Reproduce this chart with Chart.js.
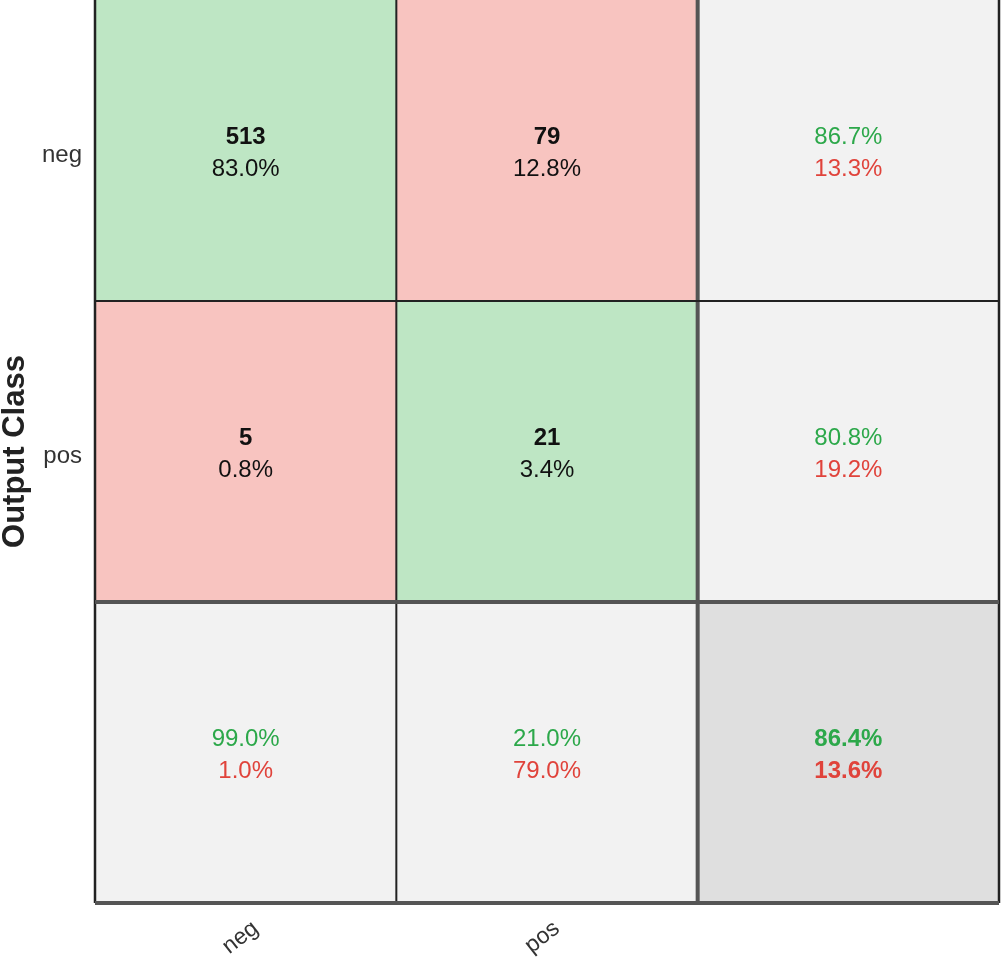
<!DOCTYPE html>
<html>
<head>
<meta charset="utf-8">
<title>Confusion matrix</title>
<script src="https://cdn.jsdelivr.net/npm/chart.js@4/dist/chart.umd.min.js"></script>
<style>
  html, body { margin: 0; padding: 0; background: #fff; }
  canvas { display: block; }
</style>
</head>
<body>
<canvas id="myChart" width="1001" height="960"></canvas>
<script>
// classes (rows = output class, columns = target class)
const classes = ['neg', 'pos']
const counts = [[513, 79], [5, 21]]
const cellPct = [[83.0, 12.8], [0.8, 3.4]]
// row summary (right column)
const rowGood = [86.7, 80.8]
const rowBad = [13.3, 19.2]
// column summary (bottom row)
const colGood = [99.0, 21.0]
const colBad = [1.0, 79.0]
// overall
const totalGood = 86.4
const totalBad = 13.6

const green = '#bee6c4'
const red = '#f8c4c0'
const light = '#f2f2f2'
const dark = '#dfdfdf'
const goodText = '#2ca84a'
const badText = '#e0433b'
const fontFamily = '"Liberation Sans", Arial, Helvetica, sans-serif'

const xLabels = [...classes, '']
const pct = v => v.toFixed(1) + '%'

// one dataset per row, stacked bottom-up: summary row, pos, neg
const rowColors = [
    [light, light, dark],
    [red, green, light],
    [green, red, light]
]
const datasets = rowColors.map((colors, i) => ({
    label: 'row' + i,
    data: xLabels.map(() => 1),
    backgroundColor: colors,
    borderWidth: 0,
    barPercentage: 1,
    categoryPercentage: 1
}))

const cellText = {
    id: 'cellText',
    afterDatasetsDraw(chart) {
        const {ctx, scales: {x, y}, chartArea} = chart
        ctx.save()
        ctx.textAlign = 'center'
        ctx.textBaseline = 'middle'
        const n = classes.length
        const put = (col, row, top, bottom, topFont, bottomFont, topColor, bottomColor) => {
            const cx = x.getPixelForValue(col)
            const cy = y.getPixelForValue(n + 0.5 - row)
            ctx.font = topFont
            ctx.fillStyle = topColor
            ctx.fillText(top, cx, cy - 13)
            ctx.font = bottomFont
            ctx.fillStyle = bottomColor
            ctx.fillText(bottom, cx, cy + 19)
        }
        const bold = 'bold 24px ' + fontFamily
        const reg = '24px ' + fontFamily
        for (let r = 0; r < n; r++) {
            for (let c = 0; c < n; c++) {
                put(c, r, String(counts[r][c]), pct(cellPct[r][c]), bold, reg, '#111', '#111')
            }
            put(n, r, pct(rowGood[r]), pct(rowBad[r]), reg, reg, goodText, badText)
        }
        for (let c = 0; c < n; c++) {
            put(c, n, pct(colGood[c]), pct(colBad[c]), reg, reg, goodText, badText)
        }
        put(n, n, pct(totalGood), pct(totalBad), bold, bold, goodText, badText)

        // grid lines between cells
        const line = (x1, y1, x2, y2, w, color) => {
            ctx.beginPath()
            ctx.lineWidth = w
            ctx.strokeStyle = color
            ctx.moveTo(x1, y1)
            ctx.lineTo(x2, y2)
            ctx.stroke()
        }
        const vStyles = [[2.5, '#222'], [2, '#222'], [4, '#555'], [2.5, '#222']]
        vStyles.forEach(([w, col], i) => {
            const px = x.getPixelForValue(i - 0.5)
            line(px, chartArea.top, px, chartArea.bottom, w, col)
        })
        const hStyles = [[4, '#555'], [4, '#555'], [2, '#222']]
        hStyles.forEach(([w, col], i) => {
            const py = y.getPixelForValue(i)
            line(chartArea.left, py, chartArea.right, py, w, col)
        })
        ctx.restore()
    }
}

new Chart(document.getElementById('myChart').getContext('2d'), {
    type: 'bar',
    data: {labels: xLabels, datasets: datasets},
    options: {
        responsive: false,
        animation: false,
        devicePixelRatio: 1,
        layout: {padding: {top: 0, right: 2, bottom: 0, left: 0}},
        plugins: {
            legend: {display: false},
            tooltip: {enabled: false}
        },
        scales: {
            x: {
                stacked: true,
                grid: {display: false, drawTicks: false},
                border: {display: false},
                ticks: {
                    color: '#333',
                    font: {family: fontFamily, size: 23},
                    minRotation: 38,
                    maxRotation: 38,
                    padding: 12,
                    labelOffset: 10
                },
                afterFit: scale => {
                    scale.height = 57
                    scale.paddingLeft = 0
                    scale.paddingRight = 0
                }
            },
            y: {
                stacked: true,
                min: 0,
                max: classes.length + 1,
                grid: {display: false},
                border: {display: false},
                afterBuildTicks: scale => {
                    scale.ticks = classes.map((c, i) => ({value: classes.length + 0.5 - i}))
                },
                ticks: {
                    color: '#333',
                    font: {family: fontFamily, size: 24},
                    padding: 5,
                    labelOffset: 5,
                    callback: value => classes[Math.round(classes.length + 0.5 - value)]
                },
                title: {
                    display: true,
                    text: 'Output Class',
                    color: '#222',
                    font: {family: fontFamily, size: 31, weight: 'bold', lineHeight: 1},
                    padding: 0
                },
                afterFit: scale => {
                    scale.width = 95
                    scale.paddingTop = 0
                    scale.paddingBottom = 0
                }
            }
        }
    },
    plugins: [cellText]
})
</script>
</body>
</html>
